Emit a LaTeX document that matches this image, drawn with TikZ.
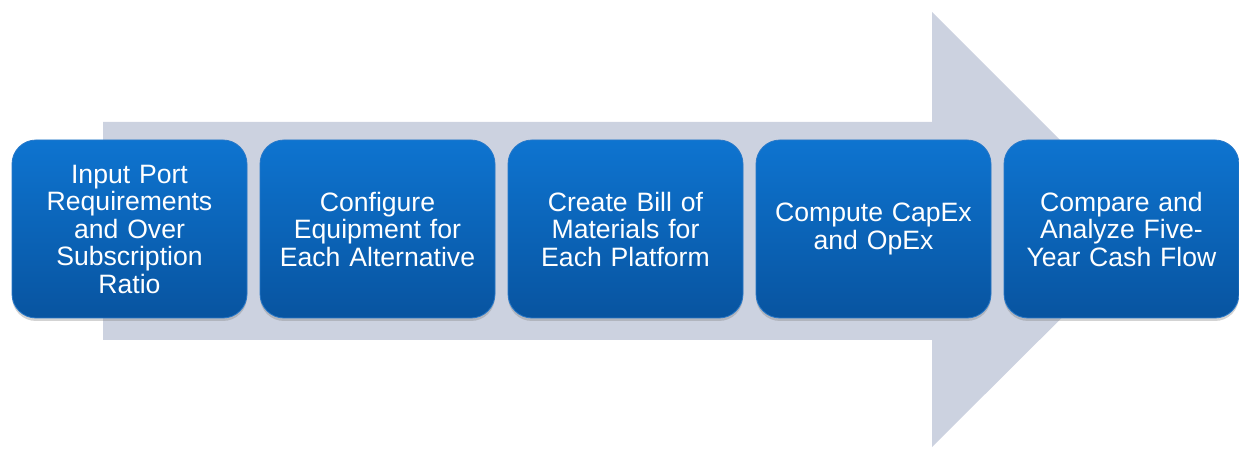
\documentclass[tikz,border=0pt]{standalone}
\usepackage{fontspec}
\setmainfont{Liberation Sans}[WordSpace=0.6]
\usepackage{tikz}
\usetikzlibrary{positioning,shadows}

\definecolor{arrowgray}{RGB}{204,210,224}
\definecolor{boxtop}{RGB}{14,116,208}
\definecolor{boxbot}{RGB}{8,84,160}
\definecolor{boxedge}{RGB}{40,120,200}

\tikzset{
  stage/.style={draw=boxedge, line width=0.4pt, rounded corners=12pt,
    top color=boxtop, bottom color=boxbot, inner sep=2pt,
    minimum width=117.5pt, minimum height=89pt, text width=112pt,
    align=center, text=white,
    font=\fontsize{13.3}{13.75}\selectfont,
    drop shadow={shadow xshift=0pt, shadow yshift=-1.5pt, opacity=0.35}}
}

\begin{document}
\begin{tikzpicture}[x=0.5pt, y=-0.5pt, node distance=6.1pt]
  \useasboundingbox (0,0) rectangle (1239,449);
  % big arrow behind the steps
  \fill[arrowgray] (103,122) -- (932,122) -- (932,12) -- (1150,230)
    -- (932,447) -- (932,340) -- (103,340) -- cycle;

  \node[stage] (ports) at (129.5,229) {Input Port\\Requirements\\and Over\\Subscription\\Ratio};
  \node[stage, right=of ports] (config) {Configure\\Equipment for\\Each Alternative};
  \node[stage, right=of config] (bom) {Create Bill of\\Materials for\\Each Platform};
  \node[stage, right=of bom] (cost) {Compute CapEx\\and OpEx};
  \node[stage, right=of cost] (cash) {Compare and\\Analyze Five-\\Year Cash Flow};
\end{tikzpicture}
\end{document}
